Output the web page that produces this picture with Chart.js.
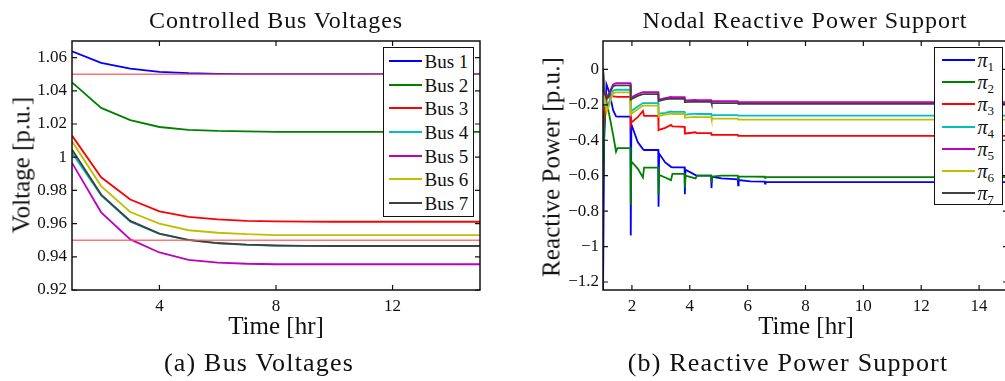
<!DOCTYPE html>
<html>
<head>
<meta charset="utf-8">
<script src="https://cdn.jsdelivr.net/npm/chart.js@4.4.1/dist/chart.umd.min.js"></script>
<style>
  body { margin: 0; width: 1005px; height: 381px; overflow: hidden; background: #fff; position: relative;
         font-family: "Liberation Serif", "DejaVu Serif", serif; color: #111; }
  canvas { position: absolute; top: 0; }
  .lbl { position: absolute; white-space: nowrap; line-height: 1; transform: translate(-50%, -50%); }
  .lbl.rot { transform: translate(-50%, -50%) rotate(-90deg); }
  .legend { position: absolute; background: #fff; border: 1.5px solid #111; box-sizing: border-box; }
  .legend .swatch { position: absolute; height: 2px; }
  .legend .entry { position: absolute; white-space: nowrap; line-height: 1; transform: translateY(-50%); }
  .legend .entry i { font-style: italic; }
  .legend .entry sub { font-size: 13px; vertical-align: -4px; line-height: 0; }
</style>
</head>
<body>
<canvas id="chart-voltage" width="500" height="381" style="left:0"></canvas>
<canvas id="chart-reactive" width="510" height="381" style="left:510px"></canvas>
<script>
// ---- bus voltages, hourly ----
const hours = [1, 2, 3, 4, 5, 6, 7, 8, 9, 10, 11, 12, 13, 14, 15];
const bus1 = [1.0638, 1.0568, 1.0534, 1.0514, 1.0506, 1.0502, 1.0501, 1.0500, 1.0500, 1.0500, 1.0500, 1.0500, 1.0500, 1.0500, 1.0500];
const bus2 = [1.0451, 1.0297, 1.0223, 1.0182, 1.0165, 1.0158, 1.0155, 1.0153, 1.0152, 1.0152, 1.0152, 1.0152, 1.0152, 1.0152, 1.0152];
const bus3 = [1.0130, 0.9879, 0.9745, 0.9674, 0.9640, 0.9625, 0.9617, 0.9613, 0.9612, 0.9611, 0.9611, 0.9611, 0.9611, 0.9611, 0.9611];
const bus4 = [1.0026, 0.9770, 0.9612, 0.9538, 0.9500, 0.9481, 0.9472, 0.9467, 0.9466, 0.9465, 0.9465, 0.9465, 0.9465, 0.9465, 0.9465];
const bus5 = [0.9966, 0.9668, 0.9505, 0.9426, 0.9382, 0.9365, 0.9358, 0.9355, 0.9355, 0.9355, 0.9355, 0.9355, 0.9355, 0.9355, 0.9355];
const bus6 = [1.0096, 0.9826, 0.9670, 0.9600, 0.9560, 0.9545, 0.9536, 0.9531, 0.9530, 0.9530, 0.9530, 0.9530, 0.9530, 0.9530, 0.9530];
const bus7 = [1.0046, 0.9775, 0.9616, 0.9540, 0.9502, 0.9483, 0.9473, 0.9468, 0.9466, 0.9465, 0.9465, 0.9465, 0.9465, 0.9465, 0.9465];
const busLabels = ['Bus 1', 'Bus 2', 'Bus 3', 'Bus 4', 'Bus 5', 'Bus 6', 'Bus 7'];
const voltageLimits = [1.05, 0.95];
const voltTicks = [0.92, 0.94, 0.96, 0.98, 1.0, 1.02, 1.04, 1.06];
const voltTickLabels = ['0.92', '0.94', '0.96', '0.98', '1', '1.02', '1.04', '1.06'];
const hourTicksA = [4, 8, 12];

// ---- reactive power support, sampled at uneven times ----
const tq = [1.00, 1.04, 1.12, 1.22, 1.35, 1.45, 1.50, 1.95, 1.96, 1.98, 2.20, 2.38, 2.42, 2.91, 2.92, 2.94, 3.15, 3.35, 3.40,
            3.82, 3.83, 3.85, 4.20, 4.25, 4.74, 4.75, 4.77, 5.10, 5.66, 5.67, 5.69, 6.10, 6.59, 6.60, 6.62, 7.00, 15.0];
const pi1 = [-1.30, -0.40, -0.085, -0.13, -0.23, -0.265, -0.267, -0.267, -0.937, -0.31, -0.41, -0.45, -0.455, -0.455, -0.775, -0.475, -0.525, -0.55, -0.553,
             -0.553, -0.705, -0.566, -0.597, -0.600, -0.600, -0.670, -0.606, -0.615, -0.620, -0.655, -0.625, -0.632, -0.633, -0.645, -0.635, -0.636, -0.636];
const pi2 = [-0.65, -0.32, -0.18, -0.26, -0.37, -0.465, -0.445, -0.445, -0.765, -0.52, -0.56, -0.61, -0.555, -0.555, -0.71, -0.595, -0.61, -0.625, -0.59,
             -0.59, -0.67, -0.60, -0.615, -0.60, -0.60, -0.64, -0.605, -0.60, -0.60, -0.62, -0.605, -0.605, -0.606, -0.612, -0.608, -0.608, -0.608];
const pi3 = [-0.33, -0.24, -0.17, -0.152, -0.153, -0.154, -0.155, -0.155, -0.313, -0.30, -0.27, -0.235, -0.263, -0.263, -0.343, -0.341, -0.33, -0.313, -0.322,
             -0.325, -0.362, -0.362, -0.355, -0.36, -0.36, -0.37, -0.37, -0.37, -0.37, -0.375, -0.375, -0.375, -0.375, -0.375, -0.375, -0.375, -0.375];
const pi4 = [0.01, -0.12, -0.23, -0.18, -0.12, -0.115, -0.115, -0.115, -0.24, -0.235, -0.21, -0.19, -0.19, -0.19, -0.252, -0.25, -0.245, -0.238, -0.24,
             -0.24, -0.255, -0.255, -0.25, -0.252, -0.252, -0.258, -0.258, -0.258, -0.258, -0.261, -0.261, -0.261, -0.261, -0.261, -0.261, -0.261, -0.261];
const pi5 = [0.0, -0.12, -0.16, -0.13, -0.085, -0.078, -0.078, -0.078, -0.16, -0.158, -0.14, -0.128, -0.128, -0.128, -0.172, -0.17, -0.162, -0.156, -0.157,
             -0.157, -0.176, -0.175, -0.172, -0.174, -0.174, -0.18, -0.18, -0.18, -0.18, -0.184, -0.185, -0.185, -0.185, -0.185, -0.185, -0.185, -0.185];
const pi6 = [0.0, -0.13, -0.24, -0.20, -0.135, -0.13, -0.13, -0.13, -0.255, -0.25, -0.225, -0.205, -0.205, -0.205, -0.265, -0.262, -0.255, -0.25, -0.252,
             -0.252, -0.272, -0.272, -0.268, -0.27, -0.27, -0.278, -0.278, -0.278, -0.278, -0.284, -0.284, -0.284, -0.284, -0.284, -0.284, -0.284, -0.284];
const pi7 = [0.0, -0.13, -0.165, -0.14, -0.095, -0.09, -0.09, -0.09, -0.17, -0.168, -0.15, -0.14, -0.14, -0.14, -0.18, -0.178, -0.17, -0.165, -0.166,
             -0.166, -0.185, -0.185, -0.182, -0.184, -0.184, -0.19, -0.19, -0.19, -0.19, -0.194, -0.195, -0.195, -0.195, -0.195, -0.195, -0.195, -0.195];
const piLabels = ['π1', 'π2', 'π3', 'π4', 'π5', 'π6', 'π7'];
const qTicks = [-1.2, -1.0, -0.8, -0.6, -0.4, -0.2, 0];
const qTickLabels = ['\u22121.2', '\u22121', '\u22120.8', '\u22120.6', '\u22120.4', '\u22120.2', '0'];
const hourTicksB = [2, 4, 6, 8, 10, 12, 14];

const lineColors = ['#0000ff', '#008000', '#ff0000', '#00bfbf', '#bf00bf', '#bfbf00', '#404040'];
const FONT = "'Liberation Serif', 'DejaVu Serif', serif";

Chart.defaults.font.family = FONT;
Chart.defaults.color = '#111';

// closed box with inward tick marks on all four sides
const frameTicks = {
  id: 'frameTicks',
  afterDatasetsDraw(chart) {
    const { ctx, chartArea: a, scales: { x, y } } = chart;
    const len = 5;
    ctx.save();
    ctx.strokeStyle = '#111';
    ctx.lineWidth = 1.2;
    ctx.beginPath();
    x.ticks.forEach((t) => {
      const px = x.getPixelForValue(t.value);
      ctx.moveTo(px, a.bottom); ctx.lineTo(px, a.bottom - len);
      ctx.moveTo(px, a.top); ctx.lineTo(px, a.top + len);
    });
    y.ticks.forEach((t) => {
      const py = y.getPixelForValue(t.value);
      ctx.moveTo(a.left, py); ctx.lineTo(a.left + len, py);
      ctx.moveTo(a.right, py); ctx.lineTo(a.right - len, py);
    });
    ctx.stroke();
    ctx.lineWidth = 1.5;
    ctx.strokeRect(a.left, a.top, a.right - a.left, a.bottom - a.top);
    ctx.restore();
  }
};

function series(xs, ys) {
  return xs.map((x, i) => ({ x, y: ys[i] }));
}

function axes(opts) {
  return {
    x: {
      type: 'linear', min: opts.xMin, max: opts.xMax,
      grid: { display: false, drawTicks: false },
      border: { display: false },
      afterBuildTicks: (s) => { s.ticks = opts.xTicks.map((v) => ({ value: v })); },
      afterFit: (s) => { s.height = opts.xHeight; },
      ticks: { padding: 6, font: { size: 17 }, color: '#111', maxRotation: 0, callback: (v) => String(v) }
    },
    y: {
      type: 'linear', min: opts.yMin, max: opts.yMax,
      grid: { display: false, drawTicks: false },
      border: { display: false },
      afterBuildTicks: (s) => { s.ticks = opts.yTicks.map((v) => ({ value: v })); },
      afterFit: (s) => { s.width = opts.yWidth; },
      ticks: { padding: opts.yPad, font: { size: 17 }, color: '#111', callback: (v, i) => opts.yLabels[i] }
    }
  };
}

const busSeries = [bus1, bus2, bus3, bus4, bus5, bus6, bus7];
const voltageSets = busSeries.map((vals, i) => ({
  label: busLabels[i],
  data: series(hours, vals),
  borderColor: lineColors[i],
  borderWidth: 1.8,
  pointRadius: 0,
  order: 7 - i
}));
voltageLimits.forEach((v) => {
  voltageSets.push({
    label: 'limit',
    data: [{ x: hours[0], y: v }, { x: hours[hours.length - 1], y: v }],
    borderColor: 'rgba(255, 80, 80, 0.8)',
    borderWidth: 1.5,
    pointRadius: 0,
    order: 0
  });
});

new Chart(document.getElementById('chart-voltage'), {
  type: 'line',
  data: { datasets: voltageSets },
  options: {
    responsive: false, animation: false, devicePixelRatio: 1,
    layout: { padding: { top: 41, right: 20, bottom: 0, left: 0 } },
    plugins: { legend: { display: false }, tooltip: { enabled: false } },
    scales: axes({ xMin: 1, xMax: 15, xTicks: hourTicksA, xHeight: 91,
                   yMin: 0.92, yMax: 1.07, yTicks: voltTicks, yLabels: voltTickLabels, yWidth: 72, yPad: 5 })
  },
  plugins: [frameTicks]
});

const piSeries = [pi1, pi2, pi3, pi4, pi5, pi6, pi7];
new Chart(document.getElementById('chart-reactive'), {
  type: 'line',
  data: {
    datasets: piSeries.map((vals, i) => ({
      label: piLabels[i],
      data: series(tq, vals),
      borderColor: lineColors[i],
      borderWidth: 1.8,
      pointRadius: 0,
      order: 7 - i
    }))
  },
  options: {
    responsive: false, animation: false, devicePixelRatio: 1,
    layout: { padding: { top: 41, right: 12, bottom: 0, left: 0 } },
    plugins: { legend: { display: false }, tooltip: { enabled: false } },
    scales: axes({ xMin: 1, xMax: 15, xTicks: hourTicksB, xHeight: 91,
                   yMin: -1.245, yMax: 0.16, yTicks: qTicks, yLabels: qTickLabels, yWidth: 93, yPad: 4 })
  },
  plugins: [frameTicks]
});

// ---- text around the plots ----
function label(text, x, y, size, width, rotated) {
  const el = document.createElement('div');
  el.className = rotated ? 'lbl rot' : 'lbl';
  el.textContent = text;
  el.style.left = x + 'px';
  el.style.top = y + 'px';
  el.style.fontSize = size + 'px';
  document.body.appendChild(el);
  // widen the letter spacing a little so the text spans the given width
  const w = el.offsetWidth;
  if (width && w < width) el.style.letterSpacing = Math.min(1.2, (width - w) / text.length) + 'px';
}

label('Controlled Bus Voltages', 276, 20, 24, 254);
label('Nodal Reactive Power Support', 805, 20, 24, 325);
label('Voltage [p.u.]', 21, 165, 25, 136, true);
label('Reactive Power [p.u.]', 551, 167, 25, 220, true);
label('Time [hr]', 276, 325, 25, 96);
label('Time [hr]', 806, 325, 25, 96);
label('(a) Bus Voltages', 259, 363, 26, 191);
label('(b) Reactive Power Support', 788, 363, 26, 322);

function legend(box, labels, rows) {
  const el = document.createElement('div');
  el.className = 'legend';
  Object.assign(el.style, { left: box.x + 'px', top: box.y + 'px', width: box.w + 'px', height: box.h + 'px' });
  labels.forEach((lab, i) => {
    const y = rows.first + i * rows.step;
    const sw = document.createElement('div');
    sw.className = 'swatch';
    Object.assign(sw.style, { left: rows.lineX + 'px', top: (y - 1) + 'px', width: rows.lineW + 'px', background: lineColors[i] });
    const tx = document.createElement('div');
    tx.className = 'entry';
    tx.innerHTML = rows.math ? lab.replace(/^π(\d)$/, '<i>π</i><sub>$1</sub>') : lab;
    Object.assign(tx.style, { left: rows.textX + 'px', top: y + 'px', fontSize: rows.size + 'px' });
    el.appendChild(sw);
    el.appendChild(tx);
  });
  document.body.appendChild(el);
}

legend({ x: 383, y: 47, w: 91, h: 170 }, busLabels,
       { first: 13.2, step: 23.6, lineX: 4.5, lineW: 33, textX: 40.5, size: 19 });
legend({ x: 934, y: 47, w: 69, h: 158 }, piLabels,
       { first: 12.2, step: 22.1, lineX: 6.5, lineW: 33, textX: 42.5, size: 20, math: true });
</script>
</body>
</html>
